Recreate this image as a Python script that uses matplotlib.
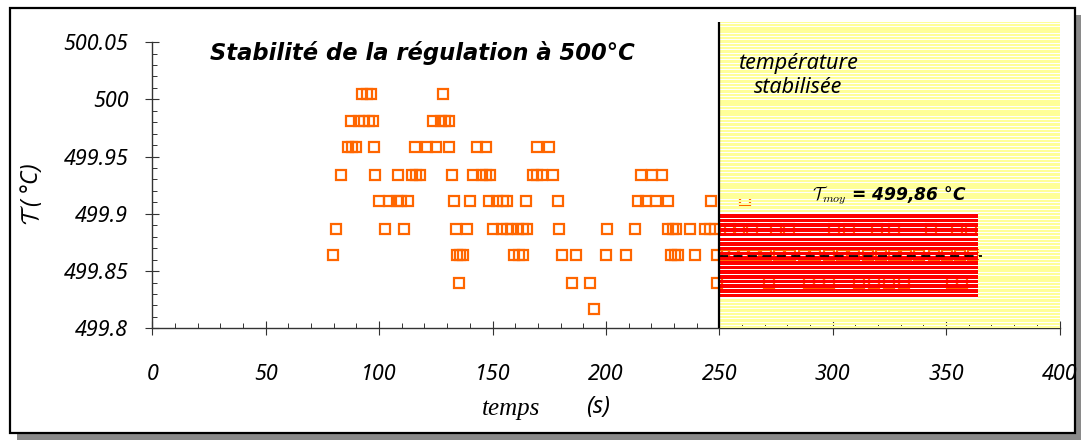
import numpy as np
import matplotlib
matplotlib.use("Agg")
import matplotlib.pyplot as plt
from matplotlib.ticker import FixedLocator, MultipleLocator
from matplotlib.patches import Rectangle
from matplotlib.font_manager import FontProperties

# ---------------- data ----------------
levels = [499.817, 499.840, 499.864, 499.887, 499.911, 499.934, 499.958, 499.981, 500.005]

t_L8 = [92.4, 94.6, 96.4, 128.1]
t_L7 = [87.5, 91.1, 93.3, 95.5, 97.3, 123.7, 127.2, 129.0, 130.7]
t_L6 = [86.2, 88.0, 89.7, 97.6, 115.7, 121.0, 125.0, 130.7, 143.0, 147.0, 169.5, 174.8]
t_L5 = [83.1, 98.1, 108.2, 114.4, 116.2, 117.9, 132.0, 141.2, 145.2, 147.0, 148.7,
        167.7, 169.5, 171.7, 176.5, 215.3, 220.2, 224.6]
t_L4 = [99.9, 104.3, 107.8, 109.5, 112.6, 132.9, 139.9, 148.3, 151.8, 154.5, 156.3,
        164.6, 178.7, 214.0, 217.9, 221.9, 227.2, 246.3, 261.4]
t_L3 = [80.9, 102.5, 110.9, 133.8, 138.6, 150.1, 154.1, 156.3, 158.0, 161.1, 163.3,
        165.1, 179.2, 200.7, 213.0, 227.6, 229.4, 231.1, 236.9, 243.9, 246.1, 248.3,
        254.5, 258.9, 264.2, 275.2, 280.9, 300.7, 307.3, 319.6, 327.1, 343.4, 354.9, 361.1]
t_L2 = [79.6, 134.2, 135.5, 136.9, 159.3, 161.5, 163.3, 180.5, 186.6, 199.9, 208.7,
        228.5, 230.3, 231.6, 239.5, 248.8,
        252.0, 256.5, 260.3, 265.1, 270.4, 276.2, 281.0, 287.3, 292.1, 298.4, 304.0,
        309.2, 315.5, 321.3, 327.0, 332.4, 338.1, 344.5, 350.2, 356.3, 362.0]
t_L1 = [135.1, 184.9, 192.8, 249.2, 272.1, 289.7, 294.1, 298.5, 311.7, 318.3, 324.9,
        331.5, 352.7, 357.1]
t_L0 = [194.6]

series_t = [t_L0, t_L1, t_L2, t_L3, t_L4, t_L5, t_L6, t_L7, t_L8]

t_stable = 250.0
t_end = 400.0
t_band_end = 364.0
mean_T = 499.863
mean_end = 366.0
band_lo, band_hi = 499.827, 499.900

x_ticks = [0, 50, 100, 150, 200, 250, 300, 350, 400]
y_ticks = [499.8, 499.85, 499.9, 499.95, 500.0, 500.05]
y_ticklabels = ["499.8", "499.85", "499.9", "499.95", "500", "500.05"]

title = "Stabilité de la régulation à 500°C"
zone_label = "température\nstabilisée"
mean_label = r"$\mathcal{T}_{moy}$ = 499,86 °C"

# ---------------- figure ----------------
plt.rcParams['mathtext.fontset'] = 'cm'
FONT = 'Noto Sans'
BOLDFONT = 'DejaVu Sans'
W, H = 1082, 443
fig = plt.figure(figsize=(W / 100, H / 100), dpi=100)

def px_rect(x0, y0, x1, y1, **kw):
    return Rectangle((x0 / W, 1 - y1 / H), (x1 - x0) / W, (y1 - y0) / H,
                     transform=fig.transFigure, **kw)

fig.patches.append(px_rect(17, 15, 1081, 440, facecolor='#8a8a8a', edgecolor='none', zorder=-3))
fig.patches.append(px_rect(10, 8, 1075, 433, facecolor='white', edgecolor='black',
                           linewidth=1.6, zorder=-2))

ax = fig.add_axes([152.3 / W, 1 - 328.3 / H, (1059.5 - 152.3) / W, (328.3 - 21.5) / H])
ax.patch.set_alpha(0)
ax.set_xlim(0, 400)
ax.set_ylim(499.8, 500.068)

# points
for lev, ts in zip(levels, series_t):
    ax.plot(ts, [lev] * len(ts), linestyle='none', marker='s', markerfacecolor='none',
            markeredgecolor='#FF6600', markersize=6.6, markeredgewidth=1.6, zorder=2)

# yellow striped zone (skipping the red band area)
ystep = 0.0029
ys = np.arange(499.8, 500.068, ystep)
in_band = (ys + ystep > band_lo) & (ys < band_hi)
lefts = np.where(in_band, t_band_end, t_stable)
widths = t_end - lefts
ax.barh(ys, widths, left=lefts, height=ystep * 0.72, align='edge',
        color='#FFFF99', linewidth=0, zorder=3)

# red striped band
rstep = 0.0041
rs = np.arange(band_lo, band_hi, rstep)
ax.barh(rs, t_band_end - t_stable, left=t_stable, height=rstep * 0.75, align='edge',
        color='#FF0000', linewidth=0, zorder=3)

# vertical separation & mean line
ax.axvline(t_stable, color='black', linewidth=1.6, zorder=4)
ax.plot([t_stable, mean_end], [mean_T, mean_T], color='black', linewidth=1.3,
        dashes=(5, 3), zorder=5)

# axes styling
for s in ['top', 'right']:
    ax.spines[s].set_visible(False)
ax.spines['left'].set_bounds(499.8, 500.05)
for s in ['left', 'bottom']:
    ax.spines[s].set_color('#333333')
    ax.spines[s].set_linewidth(1.0)

ax.xaxis.set_major_locator(FixedLocator(x_ticks))
ax.xaxis.set_minor_locator(MultipleLocator(10))
ax.yaxis.set_major_locator(FixedLocator(y_ticks))
ax.yaxis.set_minor_locator(FixedLocator(np.arange(499.8, 500.0501, 0.01)))
ax.set_yticklabels(y_ticklabels)

ax.tick_params(axis='x', which='major', direction='inout', length=10, width=0.8,
               color='#333333', pad=21)
ax.tick_params(axis='y', which='major', direction='inout', length=10.5, width=0.8,
               color='#333333', pad=12)
ax.tick_params(which='minor', direction='in', length=3.6, width=0.7, color='#333333')
for lab in ax.get_xticklabels() + ax.get_yticklabels():
    lab.set_fontproperties(FontProperties(family=FONT, style='italic', size=15.5))

# texts
fig.text(422 / W, 1 - 53 / H, title, ha='center', va='center', family=BOLDFONT,
         style='italic', weight='bold', size=16.3)
fig.text(798 / W, 1 - 75.5 / H, zone_label, ha='center', va='center', family=FONT,
         style='italic', size=15.5, linespacing=1.2)
fig.text(889 / W, 1 - 196 / H, mean_label, ha='center', va='center', family=BOLDFONT,
         style='italic', weight='bold', size=12.3)
fig.text(31 / W, 1 - 194 / H, r"$\mathcal{T}$ ( °C)", rotation=90, ha='center', va='center',
         family=FONT, style='italic', size=16.5)
fig.text(511 / W, 1 - 409 / H, "temps", ha='center', va='center', family='Liberation Serif',
         style='italic', size=18)
fig.text(598 / W, 1 - 407 / H, "(s)", ha='center', va='center', family=FONT,
         style='italic', size=17)

fig.savefig('out.png', dpi=100)
